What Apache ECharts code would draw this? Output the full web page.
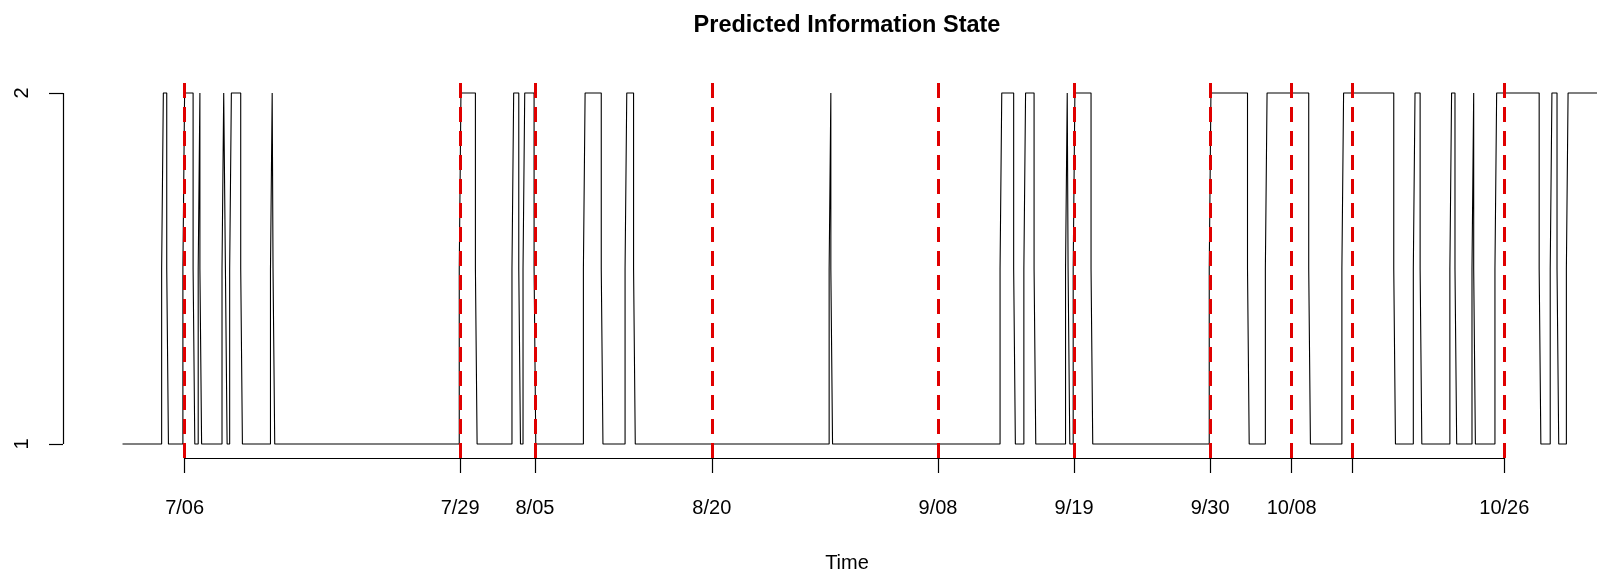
<!DOCTYPE html>
<html lang="en">

<head>
    <meta charset="UTF-8">
    <title>Predicted Information State</title>
    <script src="https://cdn.jsdelivr.net/npm/echarts/dist/echarts.min.js"></script>
    <style>
        html, body { margin: 0; padding: 0; background: #fff; }
    </style>
</head>

<body>
    <div id="chart" style="width: 1598px; height: 576px;"></div>

    <script>
        // observation index where the predicted state changes, and the state from that point on
        // (a change passes through 1.5 for one step, as in the original plot)
        const changeIdx = [
            0,
            46, 48, 52, 54,
            71, 73, 83, 85,
            89, 91, 91, 93,
            117, 119, 121, 123,
            126, 128, 139, 141,
            174, 176, 177, 179,
            396, 398, 415, 417,
            458, 460, 466, 468,
            471, 473, 484, 486,
            542, 544, 563, 565,
            591, 593, 601, 603,
            831, 833, 833, 835,
            1032, 1034, 1048, 1050,
            1060, 1062, 1072, 1074,
            1109, 1111, 1112, 1114,
            1118, 1120, 1139, 1141,
            1278, 1280, 1323, 1325,
            1344, 1346, 1395, 1397,
            1434, 1436, 1495, 1497,
            1518, 1520, 1526, 1528,
            1561, 1563, 1567, 1569,
            1587, 1589, 1589, 1591,
            1614, 1616, 1666, 1668,
            1679, 1681, 1687, 1689,
            1698, 1700, 1734
        ];
        const changeState = [
            1,
            1.5, 2, 1.5, 1,
            1.5, 2, 1.5, 1,
            1.5, 2, 1.5, 1,
            1.5, 2, 1.5, 1,
            1.5, 2, 1.5, 1,
            1.5, 2, 1.5, 1,
            1.5, 2, 1.5, 1,
            1.5, 2, 1.5, 1,
            1.5, 2, 1.5, 1,
            1.5, 2, 1.5, 1,
            1.5, 2, 1.5, 1,
            1.5, 2, 1.5, 1,
            1.5, 2, 1.5, 1,
            1.5, 2, 1.5, 1,
            1.5, 2, 1.5, 1,
            1.5, 2, 1.5, 1,
            1.5, 2, 1.5, 1,
            1.5, 2, 1.5, 1,
            1.5, 2, 1.5, 1,
            1.5, 2, 1.5, 1,
            1.5, 2, 1.5, 1,
            1.5, 2, 1.5, 1,
            1.5, 2, 1.5, 1,
            1.5, 2, 1.5, 1,
            1.5, 2, 2
        ];

        // date marks on the time axis (one tick has no label in the original)
        const tickIdx = [73, 397, 485, 693, 959, 1119, 1279, 1375, 1446, 1625];
        const tickLabels = ['7/06', '7/29', '8/05', '8/20', '9/08', '9/19', '9/30', '10/08', '', '10/26'];
        const stateTicks = [1, 2];

        // R style padding round the data range
        const xMin = -70, xMax = 1774;
        const yMin = 0.96, yMax = 2.04;

        const font = 'Liberation Sans, Arial, Helvetica, sans-serif';
        const chart = echarts.init(document.getElementById('chart'));

        const labelIdx = tickIdx.filter((v, i) => tickLabels[i] !== '');

        const option = {
            animation: false,
            backgroundColor: '#fff',
            title: {
                text: 'Predicted Information State',
                left: 847,
                top: 14,
                padding: 0,
                textAlign: 'center',
                textStyle: { fontFamily: font, fontSize: 23.5, fontWeight: 'bold', color: '#000' }
            },
            grid: { left: 63, width: 1568, top: 79, bottom: 118, outerBoundsMode: 'none', containLabel: false },
            xAxis: {
                type: 'value',
                min: xMin,
                max: xMax,
                name: 'Time',
                nameLocation: 'middle',
                nameGap: 95,
                nameTextStyle: { fontFamily: font, fontSize: 20, color: '#000' },
                axisLine: { show: false, onZero: false },
                splitLine: { show: false },
                axisTick: {
                    show: true,
                    customValues: tickIdx,
                    length: 15,
                    lineStyle: { color: '#000', width: 1.2 }
                },
                axisLabel: {
                    customValues: labelIdx,
                    margin: 40,
                    fontFamily: font,
                    fontSize: 20,
                    color: '#000',
                    formatter: v => tickLabels[tickIdx.indexOf(v)]
                }
            },
            yAxis: {
                type: 'value',
                min: yMin,
                max: yMax,
                axisLine: { show: false, onZero: false },
                splitLine: { show: false },
                axisTick: {
                    show: true,
                    customValues: stateTicks,
                    length: 14,
                    lineStyle: { color: '#000', width: 1.2 }
                },
                axisLabel: {
                    customValues: stateTicks,
                    rotate: 90,
                    margin: 31,
                    fontFamily: font,
                    fontSize: 20,
                    color: '#000'
                }
            },
            series: [
                {
                    type: 'line',
                    step: 'end',
                    symbol: 'none',
                    data: changeIdx.map((x, i) => [x, changeState[i]]),
                    lineStyle: { color: '#000', width: 1.1 },
                    // axis lines drawn only between the outer ticks, like R's axis()
                    markLine: {
                        silent: true,
                        symbol: 'none',
                        label: { show: false },
                        lineStyle: { color: '#000', width: 1.2, type: 'solid' },
                        data: [
                            [{ coord: [tickIdx[0], yMin] }, { coord: [tickIdx[tickIdx.length - 1], yMin] }],
                            [{ coord: [xMin, stateTicks[0]] }, { coord: [xMin, stateTicks[1]] }]
                        ]
                    }
                },
                {
                    type: 'line',
                    data: [],
                    z: 5,
                    markLine: {
                        silent: true,
                        symbol: 'none',
                        label: { show: false },
                        lineStyle: { color: '#e00000', width: 3, type: [15, 9] },
                        data: tickIdx.map(v => ({ xAxis: v }))
                    }
                }
            ]
        };

        chart.setOption(option);
    </script>
</body>

</html>
